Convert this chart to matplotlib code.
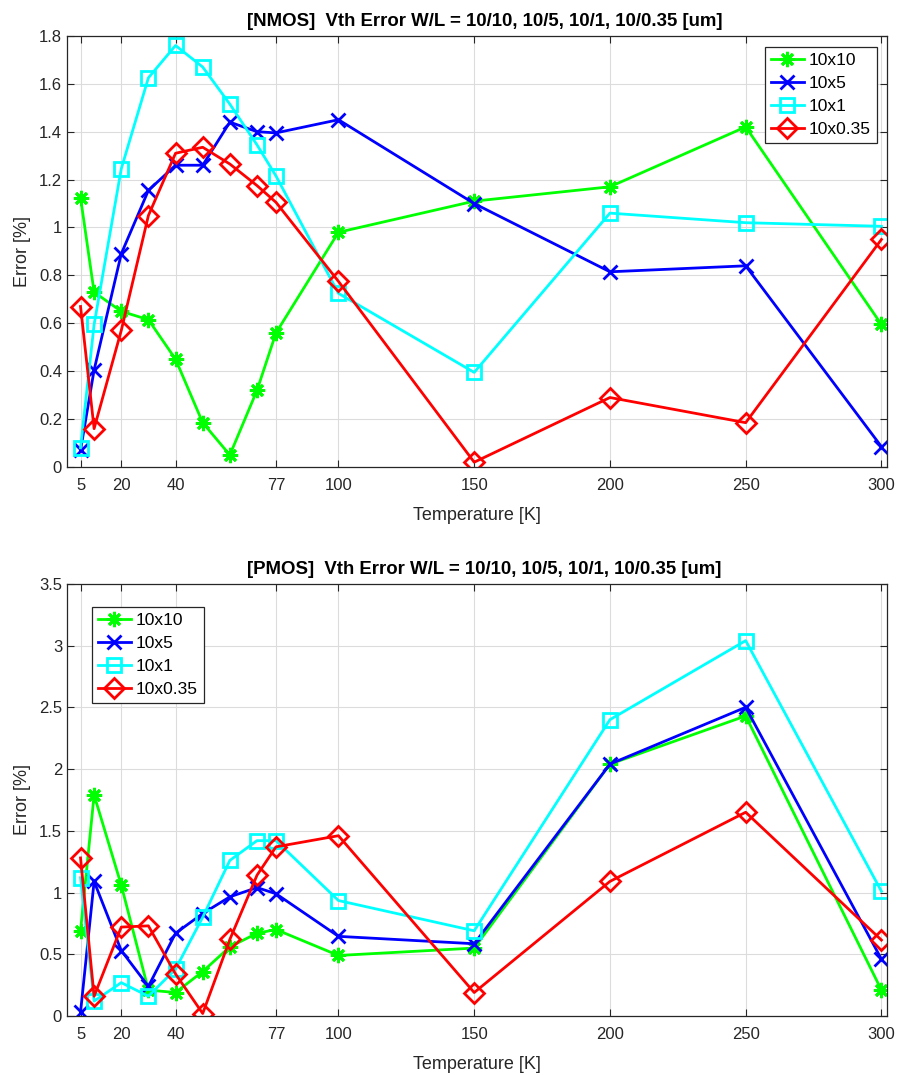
import matplotlib
matplotlib.use('Agg')
import matplotlib.pyplot as plt

# 온도 [K]
temps = [5, 10, 20, 30, 40, 50, 60, 70, 77, 100, 150, 200, 250, 300]
xtick_vals = [5, 20, 40, 77, 100, 150, 200, 250, 300]
labels = ['10x10', '10x5', '10x1', '10x0.35']

# NMOS Vth error [%]
nmos_10x10 = [1.125, 0.73, 0.65, 0.615, 0.45, 0.185, 0.05, 0.32, 0.56, 0.98, 1.11, 1.17, 1.42, 0.595]
nmos_10x5 = [0.07, 0.405, 0.89, 1.155, 1.26, 1.26, 1.44, 1.40, 1.395, 1.45, 1.10, 0.815, 0.84, 0.085]
nmos_10x1 = [0.08, 0.595, 1.245, 1.625, 1.76, 1.67, 1.515, 1.345, 1.215, 0.725, 0.395, 1.06, 1.02, 1.005]
nmos_10x035 = [0.67, 0.16, 0.57, 1.05, 1.31, 1.335, 1.265, 1.175, 1.105, 0.775, 0.02, 0.29, 0.185, 0.95]

# PMOS Vth error [%]
pmos_10x10 = [0.69, 1.79, 1.06, 0.21, 0.19, 0.36, 0.56, 0.67, 0.70, 0.49, 0.55, 2.04, 2.43, 0.21]
pmos_10x5 = [0.03, 1.09, 0.53, 0.24, 0.67, 0.83, 0.965, 1.04, 0.99, 0.645, 0.585, 2.04, 2.50, 0.46]
pmos_10x1 = [1.12, 0.12, 0.27, 0.16, 0.38, 0.80, 1.26, 1.42, 1.42, 0.935, 0.69, 2.40, 3.04, 1.01]
pmos_10x035 = [1.28, 0.16, 0.72, 0.73, 0.34, 0.02, 0.62, 1.14, 1.37, 1.46, 0.19, 1.09, 1.65, 0.615]

colors = ['#00ff00', '#0000ff', '#00ffff', '#ff0000']
markers = [(8, 2, 0), 'x', 's', 'D']   # MATLAB 스타일 마커 (*, x, square, diamond)
msizes = [11, 9.5, 9.5, 10.5]

plt.rcParams['font.family'] = ['Liberation Sans', 'DejaVu Sans']

fig = plt.figure(figsize=(9, 10.75), dpi=100)
ax1 = fig.add_axes([0.0744, 0.5656, 0.911, 0.401])
ax2 = fig.add_axes([0.0744, 0.0549, 0.911, 0.402])


def draw_panel(ax, series, title, ymax, ystep, legend_loc, leg_anchor):
    for vals, c, m, ms, lab in zip(series, colors, markers, msizes, labels):
        ax.plot(temps, vals, color=c, marker=m, markersize=ms, linewidth=2.0,
                markeredgewidth=2.0, markerfacecolor='none', label=lab)
    ax.set_xlim(0, 302)
    ax.set_ylim(0, ymax)
    ax.set_xticks(xtick_vals)
    yt = [round(i * ystep, 2) for i in range(int(round(ymax / ystep)) + 1)]
    ax.set_yticks(yt)
    ax.set_yticklabels(['%g' % v for v in yt])
    ax.grid(True, color='#dcdcdc', linewidth=0.8)
    ax.tick_params(direction='in', top=True, right=True, labelsize=12,
                   colors='#262626', length=5)
    ax.tick_params(axis='x', pad=8)
    for s in ax.spines.values():
        s.set_color('#262626')
        s.set_linewidth(0.9)
    ax.set_xlabel('Temperature [K]', fontsize=13, color='#262626', labelpad=10)
    ax.set_ylabel('Error [%]', fontsize=13, color='#262626', labelpad=6)
    ax.set_title(title, fontsize=13.4, fontweight='bold', pad=7, x=0.509)
    leg = ax.legend(loc=legend_loc, bbox_to_anchor=leg_anchor, fontsize=12.5,
                    fancybox=False, framealpha=1, edgecolor='#262626',
                    handlelength=1.9, borderpad=0.35, labelspacing=0.45,
                    handletextpad=0.3, borderaxespad=0)
    leg.get_frame().set_linewidth(0.9)


draw_panel(ax1, [nmos_10x10, nmos_10x5, nmos_10x1, nmos_10x035],
           '[NMOS]  Vth Error W/L = 10/10, 10/5, 10/1, 10/0.35 [um]', 1.8, 0.2,
           'upper right', (0.988, 0.974))
draw_panel(ax2, [pmos_10x10, pmos_10x5, pmos_10x1, pmos_10x035],
           '[PMOS]  Vth Error W/L = 10/10, 10/5, 10/1, 10/0.35 [um]', 3.5, 0.5,
           'upper left', (0.030, 0.947))

plt.savefig('out.png', dpi=100)
